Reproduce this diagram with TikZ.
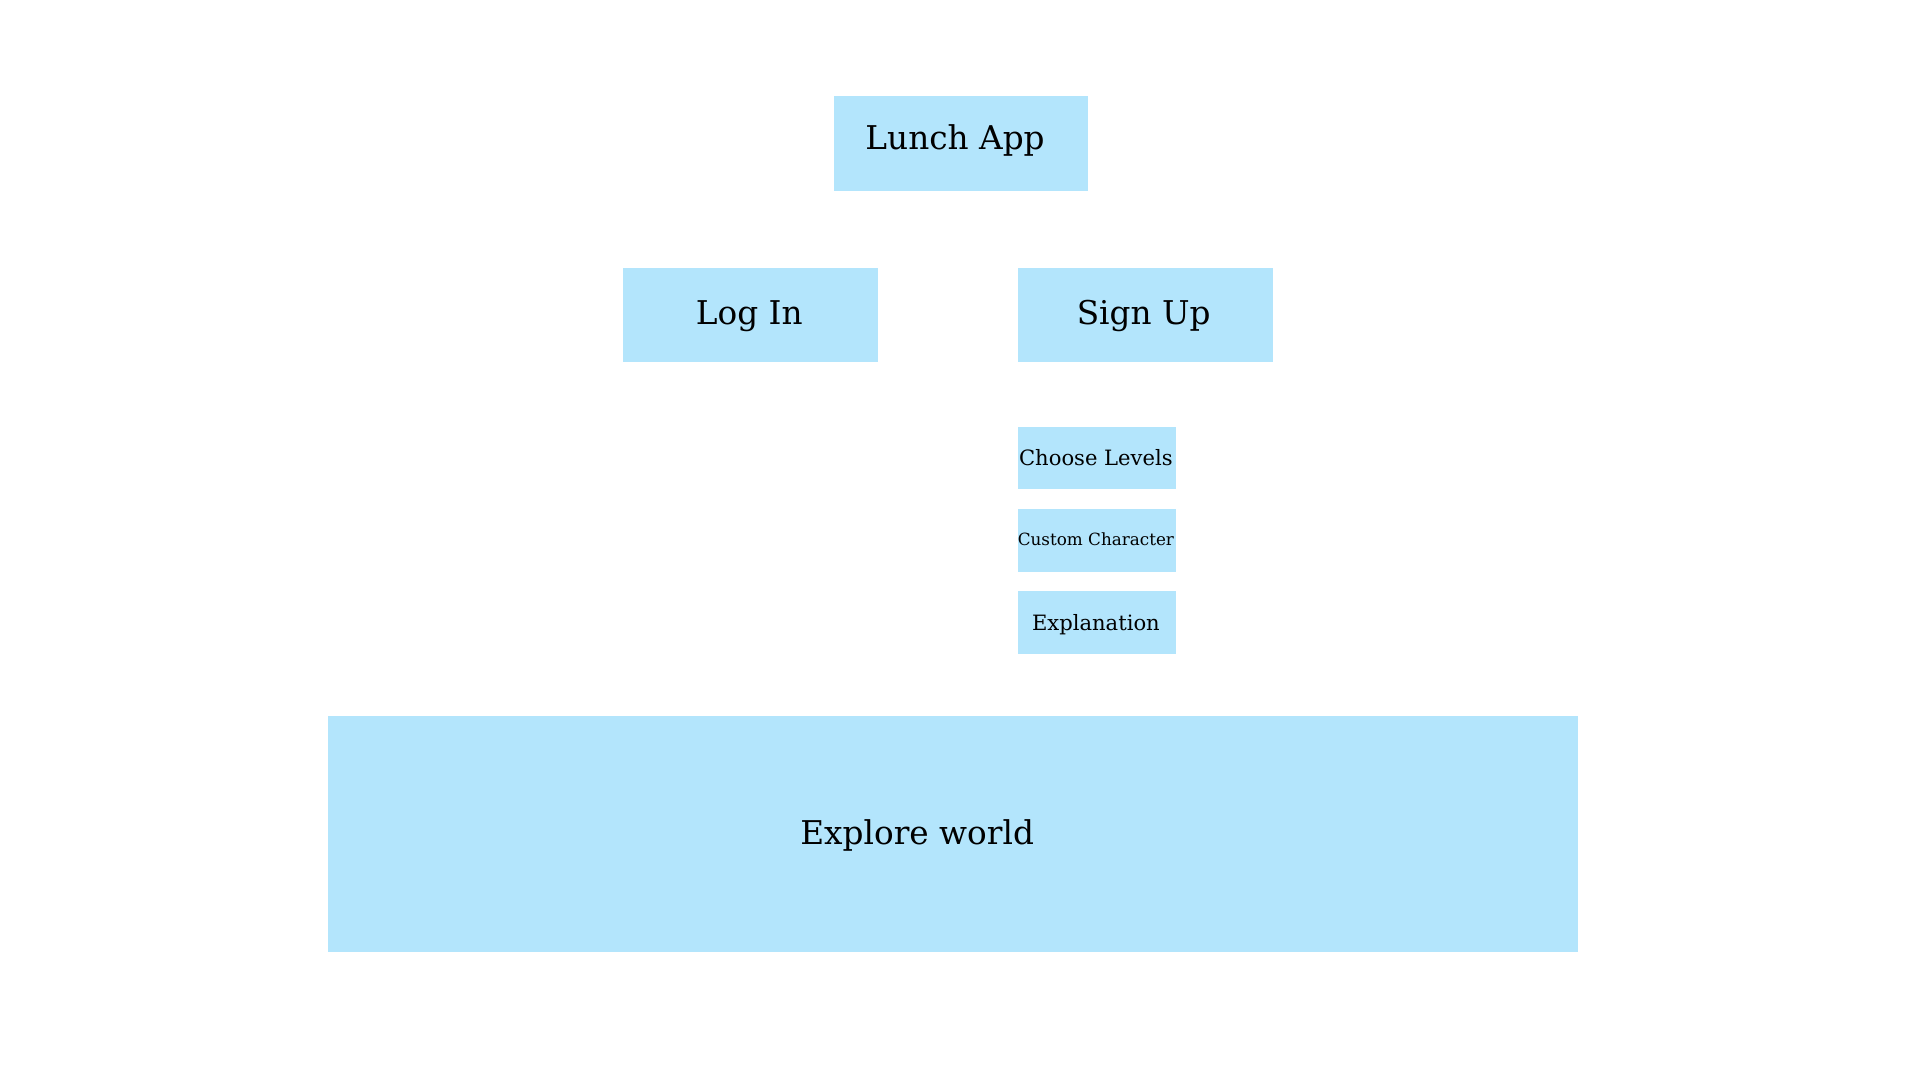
\documentclass[tikz,border=0pt]{standalone}
\usepackage{fontspec}
\setmainfont{DejaVu Serif}
\definecolor{boxblue}{HTML}{B3E5FC}
\begin{document}
\begin{tikzpicture}[x=0.01cm,y=-0.01cm,
  box/.style={fill=boxblue,draw=none,inner sep=0pt,anchor=north west},
  big/.style={font=\fontsize{7.6}{9}\selectfont},
  mid/.style={font=\fontsize{4.9}{6}\selectfont},
  small/.style={font=\fontsize{3.9}{5}\selectfont}]
\useasboundingbox (0,0) rectangle (1568,882);
\fill[white] (0,0) rectangle (1568,882);
\node[box,minimum width=2.08cm,minimum height=0.77cm] (lunch) at (680,78) {};
\node[box,minimum width=2.08cm,minimum height=0.77cm] (login) at (508,218) {};
\node[box,minimum width=2.08cm,minimum height=0.77cm] (signup) at (831,218) {};
\node[box,minimum width=1.29cm,minimum height=0.51cm] (choose) at (831,348) {};
\node[box,minimum width=1.29cm,minimum height=0.51cm] (custom) at (831,415) {};
\node[box,minimum width=1.29cm,minimum height=0.51cm] (expl) at (831,482) {};
\node[box,minimum width=10.2cm,minimum height=1.93cm] (world) at (267,584) {};
\node[big] (tl) at (780,115) {Lunch App};
\node[big] (tli) at (612,258) {Log In};
\node[big] (tsu) at (934,258) {Sign Up};
\node[mid] (tcl) at (895,374) {Choose Levels};
\node[small] (tcc) at (895,440) {Custom Character};
\node[mid] (tex) at (895,510) {Explanation};
\node[big] (tew) at (749,682) {Explore world};
\end{tikzpicture}
\end{document}
